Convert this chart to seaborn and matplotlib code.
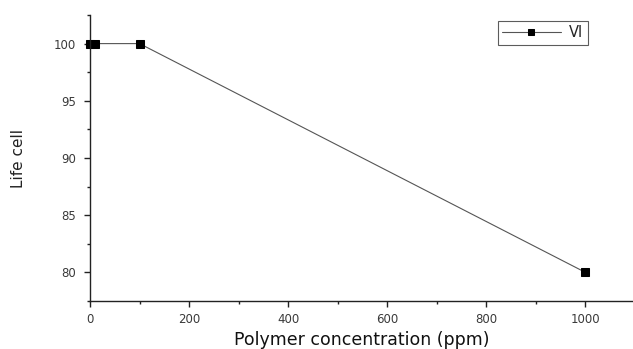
import matplotlib
matplotlib.use("Agg")
import matplotlib.pyplot as plt
import seaborn as sns
import pandas as pd
from matplotlib.ticker import MultipleLocator

concentration = [0, 10, 100, 1000]
life_cell = [100, 100, 100, 80]
series_name = "VI"

df = pd.DataFrame({"Polymer concentration (ppm)": concentration,
                   "Life cell": life_cell,
                   "series": [series_name] * len(concentration)})

sns.set_theme(style="white")
plt.rcParams['font.family'] = ['DejaVu Sans']

fig = plt.figure(figsize=(6.33, 3.49), dpi=100)
ax = fig.add_axes([90/633, 1 - 301/349, 1 - 90/633, (301 - 15)/349])

sns.lineplot(data=df, x="Polymer concentration (ppm)", y="Life cell", hue="series",
             palette=["#555555"], marker="s", markersize=5.6, markerfacecolor="black",
             markeredgecolor="black", linewidth=0.8, ax=ax, clip_on=False)

ax.set_xlim(0, 1096)
ax.set_ylim(77.5, 102.5)
ax.xaxis.set_major_locator(MultipleLocator(200))
ax.xaxis.set_minor_locator(MultipleLocator(100))
ax.yaxis.set_major_locator(MultipleLocator(5))
ax.yaxis.set_minor_locator(MultipleLocator(2.5))
ax.tick_params(which="major", direction="out", length=4, width=1, colors="#222222",
               labelsize=8.5, labelcolor="#3a3a3a", bottom=True, left=True, pad=4.5)
ax.tick_params(axis="y", which="major", pad=6)
ax.tick_params(which="minor", direction="out", length=2.5, width=1, colors="#222222",
               bottom=True, left=True)
for s in ["top", "right"]:
    ax.spines[s].set_visible(False)
for s in ["left", "bottom"]:
    ax.spines[s].set_color("#222222")
    ax.spines[s].set_linewidth(1.0)

ax.set_xlabel("Polymer concentration (ppm)", fontsize=12.5, color="#111111", labelpad=4)
ax.set_ylabel("Life cell", fontsize=11, color="#222222", labelpad=20)

leg = ax.legend(loc="upper right", frameon=True, fancybox=False,
                fontsize=10.5, handlelength=4.0, borderpad=0.3, handletextpad=0.6,
                borderaxespad=0, markerscale=0.75)
leg.get_frame().set_edgecolor("#333333")
leg.get_frame().set_linewidth(0.8)
leg.set_bbox_to_anchor(((588 - 90)/(633 - 90), 1 - (21 - 15)/286), transform=ax.transAxes)

fig.savefig("out.png", dpi=100)
